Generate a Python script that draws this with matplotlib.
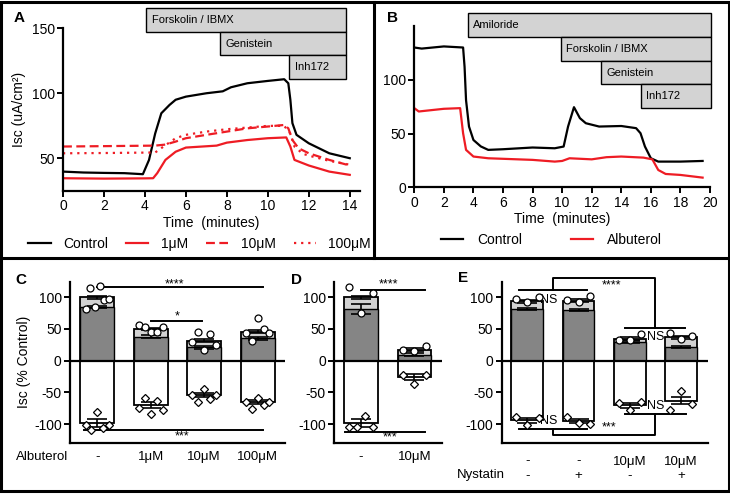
import numpy as np
import matplotlib.pyplot as plt
from matplotlib.patches import Rectangle
from matplotlib.lines import Line2D
from matplotlib.transforms import blended_transform_factory

plt.rcParams['font.family'] = ['Liberation Sans', 'DejaVu Sans']
plt.rcParams['axes.unicode_minus'] = False

W, H = 730, 495

# ---- panel A traces (Isc, uA/cm2 vs minutes)
a_ctrl_t = [0, 1, 2, 3, 3.9, 4.2, 4.5, 4.8, 5.2, 5.5, 6, 7, 7.8, 8.2, 9, 10, 10.8, 11.0, 11.1, 11.2, 11.4, 12, 13, 14]
a_ctrl_v = [39.7, 39, 38.7, 38.5, 37.7, 48.7, 69, 84.6, 91, 95, 97.4, 100, 101.5, 104.6, 107.7, 109.5, 110.8, 107.7, 95, 77, 68, 61.5, 53.8, 50]
a_1um_t = [0, 2, 4, 4.4, 4.6, 5, 5.5, 6, 7.5, 8, 9, 10, 10.9, 11.1, 11.3, 12, 13, 14]
a_1um_v = [34.6, 34.3, 34.5, 34.6, 38.5, 48.7, 55, 58.2, 59.7, 62, 64, 65.4, 66, 59, 48.7, 44.4, 39.7, 37.2]
a_10um_t = [0, 2, 4.5, 5, 5.5, 6, 7, 8, 9, 10, 10.8, 11.0, 11.2, 11.5, 12, 13, 14]
a_10um_v = [59, 59.3, 59.7, 60.5, 62.8, 65.4, 68, 70.5, 73, 74.4, 75.6, 73, 64, 57.7, 53.8, 48.7, 44.4]
a_100um_t = [0, 2, 4.5, 5, 5.5, 6, 7, 8, 9, 10, 10.8, 11.1, 11.3, 11.7, 12, 13, 14]
a_100um_v = [53.8, 54, 54.4, 60, 65.4, 68, 70.5, 72.3, 73.6, 74.9, 74.9, 69, 59, 53.5, 52, 48, 45]
a_drugs = ['Forskolin / IBMX', 'Genistein', 'Inh172']
a_starts = [4.05, 7.65, 11.05]
a_end = 13.8

# ---- panel B traces
b_ctrl_t = [0, 0.5, 2, 3.3, 3.4, 3.5, 3.7, 4, 4.5, 5, 6, 8, 9.5, 10.1, 10.4, 10.8, 11.2, 11.6, 12.5, 14, 15, 15.3, 15.6, 16, 16.5, 18, 19.5]
b_ctrl_v = [130, 129, 131, 130, 112, 81, 56.5, 44, 38, 34.8, 35.4, 37, 36.3, 37.9, 56.5, 74.5, 64.3, 59.6, 56.5, 57, 55, 50.3, 37.9, 27, 23.9, 23.9, 24.5]
b_alb_t = [0, 0.3, 2, 3.1, 3.3, 3.5, 4, 5, 8, 9.5, 10, 10.5, 12, 13, 14, 15.5, 16.1, 16.5, 17, 18, 19.5]
b_alb_v = [73.6, 70.5, 73, 73.6, 50.3, 34.8, 28.6, 27, 25.5, 23.9, 24.5, 27, 26, 28, 28.6, 27.6, 26, 16.1, 12.4, 11.5, 9]
b_drugs = ['Amiloride', 'Forskolin / IBMX', 'Genistein', 'Inh172']
b_starts = [3.6, 9.9, 12.6, 15.3]
b_end = 20.1

# ---- panel C (% control)
c_labels = ['-', '1\u03bcM', '10\u03bcM', '100\u03bcM']
c_fsk = [85, 38, 21, 35]
c_total = [100, 50, 31.6, 46]
c_inh = [-98, -70, -54, -65]
c_fsk_err = [2, 2, 2, 2]
c_total_err = [2, 2, 2, 2]
c_inh_err = [6, 4, 3, 3]
c_circles = [[81, 114, 84, 118, 95, 98], [56, 52.6, 46, 46, 52.6], [30, 46, 17, 42, 25], [43.7, 31.6, 67, 49.5, 44]]
c_diamonds = [[-101.6, -109.5, -80.5, -107, -101.6], [-75, -59.5, -84, -63.7, -78],
              [-54, -65.8, -44.7, -60.5, -54], [-64.7, -75.8, -59.5, -69.5, -65.8]]

# ---- panel D
d_labels = ['-', '10\u03bcM']
d_fsk = [82, 9.5]
d_total = [100, 17.4]
d_inh = [-98.4, -25.8]
d_fsk_err = [8, 2]
d_total_err = [2, 2]
d_inh_err = [6, 4]
d_circles = [[115.8, 75, 106.8], [16.3, 14.7, 23.7]]
d_diamonds = [[-104.7, -104.7, -87.9, -104.7], [-22, -36.3, -22]]

# ---- panel E
e_labels = ['-\n-', '-\n+', '10\u03bcM\n-', '10\u03bcM\n+']
e_fsk = [82, 80.5, 29.5, 21.6]
e_total = [93.7, 94.7, 34.7, 36.8]
e_inh = [-94, -95.8, -70.5, -63]
e_fsk_err = [1.5, 1.5, 1.5, 1.5]
e_total_err = [2, 2, 2, 2]
e_inh_err = [4, 3, 4, 6]
e_circles = [[97, 92.6, 100.5], [96, 92.6, 101.6], [33, 33, 42.6], [43.7, 34.2, 38.4]]
e_diamonds = [[-89, -101, -90.5], [-89, -98.4, -99.5], [-66.8, -77.4, -65.8], [-77.4, -47.4, -68]]

RED = '#ee1c24'
DARK = '#858585'
LIGHT = '#d2d2d2'

fig = plt.figure(figsize=(7.3, 4.95), dpi=100)


def px_axes(l, t, r, b):
    return fig.add_axes([l / W, 1 - b / H, (r - l) / W, (b - t) / H])


def style(ax):
    for s in ['top', 'right']:
        ax.spines[s].set_visible(False)
    for s in ['left', 'bottom']:
        ax.spines[s].set_linewidth(1.6)
    ax.tick_params(direction='out', length=4, width=1.4, labelsize=10, pad=2)


def treatment_boxes(ax, names, starts, end, top, h):
    tr = blended_transform_factory(ax.transData, ax.transAxes)
    for i, (name, s) in enumerate(zip(names, starts)):
        y = top - (i + 1) * h
        ax.add_patch(Rectangle((s, y), end - s, h, transform=tr, facecolor='#d3d3d3',
                               edgecolor='black', lw=1.0, clip_on=False))
        ax.annotate(name, (s, y + h / 2), xycoords=tr, xytext=(4, 0), textcoords='offset points',
                    va='center', ha='left', fontsize=8)


def bar_panel(ax, fsk, total, inh, fe, te, ie, circles, diamonds, width):
    x = np.arange(len(fsk))
    ax.bar(x, total, width, color=LIGHT, edgecolor='black', lw=1.3, zorder=2)
    ax.bar(x, fsk, width, color=DARK, edgecolor='black', lw=1.0, zorder=2)
    ax.bar(x, inh, width, color='white', edgecolor='black', lw=1.3, zorder=2)
    for vals, err in [(total, te), (fsk, fe), (inh, ie)]:
        ax.errorbar(x, vals, yerr=err, fmt='none', ecolor='black', capsize=7,
                    elinewidth=1.2, capthick=1.2, zorder=3)
    for i, vals in enumerate(circles):
        off = np.linspace(-0.22, 0.22, len(vals))
        ax.plot(i + off, vals, 'o', mfc='white', mec='black', ms=5, mew=0.9, zorder=4, clip_on=False)
    for i, vals in enumerate(diamonds):
        off = np.linspace(-0.22, 0.22, len(vals))
        ax.plot(i + off, vals, 'D', mfc='white', mec='black', ms=4.2, mew=0.9, zorder=4, clip_on=False)
    ax.axhline(0, color='black', lw=1.6, zorder=5)
    ax.set_ylim(-130, 125)
    ax.set_yticks([-100, -50, 0, 50, 100])
    ax.set_xticks(x)
    ax.tick_params(axis='x', length=0, pad=6, labelsize=9.5)


# ---------------- A
axA = px_axes(63, 28.3, 360, 190.7)
style(axA)
axA.plot(a_ctrl_t, a_ctrl_v, color='black', lw=1.6, label='Control')
axA.plot(a_1um_t, a_1um_v, color=RED, lw=1.6, label='1\u03bcM')
axA.plot(a_10um_t, a_10um_v, color=RED, lw=1.6, dashes=(4, 2), label='10\u03bcM')
axA.plot(a_100um_t, a_100um_v, color=RED, lw=1.6, dashes=(1, 2.2), label='100\u03bcM')
axA.set_xlim(0, 14.5)
axA.set_ylim(25, 150)
axA.set_xticks(range(0, 15, 2))
axA.set_yticks([50, 100, 150])
axA.set_xlabel('Time  (minutes)', fontsize=10, labelpad=2)
axA.set_ylabel('Isc (uA/cm\u00b2)', fontsize=10, labelpad=4)
treatment_boxes(axA, a_drugs, a_starts, a_end, 1.123, 0.145)
axA.legend(loc='center', bbox_to_anchor=(0.46, -0.328), ncol=4, frameon=False, fontsize=10,
           handlelength=1.6, handletextpad=0.9, columnspacing=1.3)

# ---------------- B
axB = px_axes(414.3, 26, 710, 187.3)
style(axB)
axB.plot(b_ctrl_t, b_ctrl_v, color='black', lw=1.6, label='Control')
axB.plot(b_alb_t, b_alb_v, color=RED, lw=1.6, label='Albuterol')
axB.set_xlim(0, 20)
axB.set_ylim(0, 150)
axB.set_xticks(range(0, 21, 2))
axB.set_yticks([0, 50, 100])
axB.set_xlabel('Time  (minutes)', fontsize=10, labelpad=2)
treatment_boxes(axB, b_drugs, b_starts, b_end, 1.079, 0.147)
axB.legend(loc='center', bbox_to_anchor=(0.464, -0.327), ncol=2, frameon=False, fontsize=10,
           handlelength=1.6, handletextpad=1.0, columnspacing=3.5)

# ---------------- C
axC = px_axes(70, 281.5, 285, 443)
style(axC)
bar_panel(axC, c_fsk, c_total, c_inh, c_fsk_err, c_total_err, c_inh_err, c_circles, c_diamonds, 0.64)
axC.set_xlim(-0.51, 3.51)
axC.set_xticklabels(c_labels)
axC.set_ylabel('Isc (% Control)', fontsize=10, labelpad=2)
axC.plot([0, 3.1], [116, 116], color='black', lw=1.4, clip_on=False)
axC.text(1.45, 121, '****', ha='center', va='center', fontsize=9)
axC.plot([1.0, 1.95], [63, 63], color='black', lw=1.4, clip_on=False)
axC.text(1.49, 70, '*', ha='center', va='center', fontsize=9)
axC.plot([-0.25, 3.1], [-109.4, -109.4], color='black', lw=1.4, clip_on=False)
axC.text(1.58, -119, '***', ha='center', va='center', fontsize=9)
fig.text(42 / W, 1 - 456.7 / H, 'Albuterol', ha='center', va='center', fontsize=9.5)

# ---------------- D
axD = px_axes(334.3, 281.5, 441.7, 443)
style(axD)
bar_panel(axD, d_fsk, d_total, d_inh, d_fsk_err, d_total_err, d_inh_err, d_circles, d_diamonds, 0.63)
axD.set_xlim(-0.5, 1.51)
axD.set_xticklabels(d_labels)
axD.plot([0, 1.2], [112, 112], color='black', lw=1.4, clip_on=False)
axD.text(0.52, 120, '****', ha='center', va='center', fontsize=9)
axD.plot([-0.3, 1.2], [-113, -113], color='black', lw=1.4, clip_on=False)
axD.text(0.54, -121, '***', ha='center', va='center', fontsize=9)

# ---------------- E
axE = px_axes(501.7, 281.5, 708.3, 443)
style(axE)
bar_panel(axE, e_fsk, e_total, e_inh, e_fsk_err, e_total_err, e_inh_err, e_circles, e_diamonds, 0.62)
axE.set_xlim(-0.5, 3.53)
axE.set_xticklabels(e_labels, linespacing=1.25)
axE.tick_params(axis='x', pad=9)
kw = dict(color='black', lw=1.4, clip_on=False)
axE.plot([-0.16, 1.16], [112, 112], **kw)
axE.plot([0.5, 0.5, 2.5, 2.5], [112, 130.5, 130.5, 51.5], **kw)
axE.plot([1.9, 3.08], [51.5, 51.5], **kw)
axE.text(1.65, 118, '****', ha='center', va='center', fontsize=9)
axE.plot([-0.16, 1.16], [-107.4, -107.4], **kw)
axE.plot([0.5, 0.5, 2.5, 2.5], [-107.4, -117, -117, -83.7], **kw)
axE.plot([1.9, 3.1], [-83.7, -83.7], **kw)
axE.text(1.6, -105, '***', ha='center', va='center', fontsize=9)
for xx, yy in [(0.42, 96), (2.5, 37), (0.42, -94.7), (2.5, -72)]:
    axE.text(xx, yy, 'NS', ha='center', va='center', fontsize=9)
fig.text(481 / W, 1 - 475 / H, 'Nystatin', ha='center', va='center', fontsize=9.5)

# ---------------- panel letters and frames
for letter, (px, py) in zip('ABCDE', [(19, 18), (392.5, 18), (21, 280), (297, 280), (463.5, 278.5)]):
    fig.text(px / W, 1 - py / H, letter, ha='center', va='center', fontsize=11, fontweight='bold')

frame = dict(color='black', lw=2.2, transform=fig.transFigure)
fig.add_artist(Rectangle((1.5 / W, 1 - 491 / H), 727 / W, 489.5 / H, fill=False, edgecolor='black',
                         lw=2.2, transform=fig.transFigure))
fig.add_artist(Line2D([1.5 / W, 728.5 / W], [1 - 258 / H, 1 - 258 / H], **frame))
fig.add_artist(Line2D([374 / W, 374 / W], [1 - 1.5 / H, 1 - 258 / H], **frame))

fig.savefig('out.png', dpi=100)
